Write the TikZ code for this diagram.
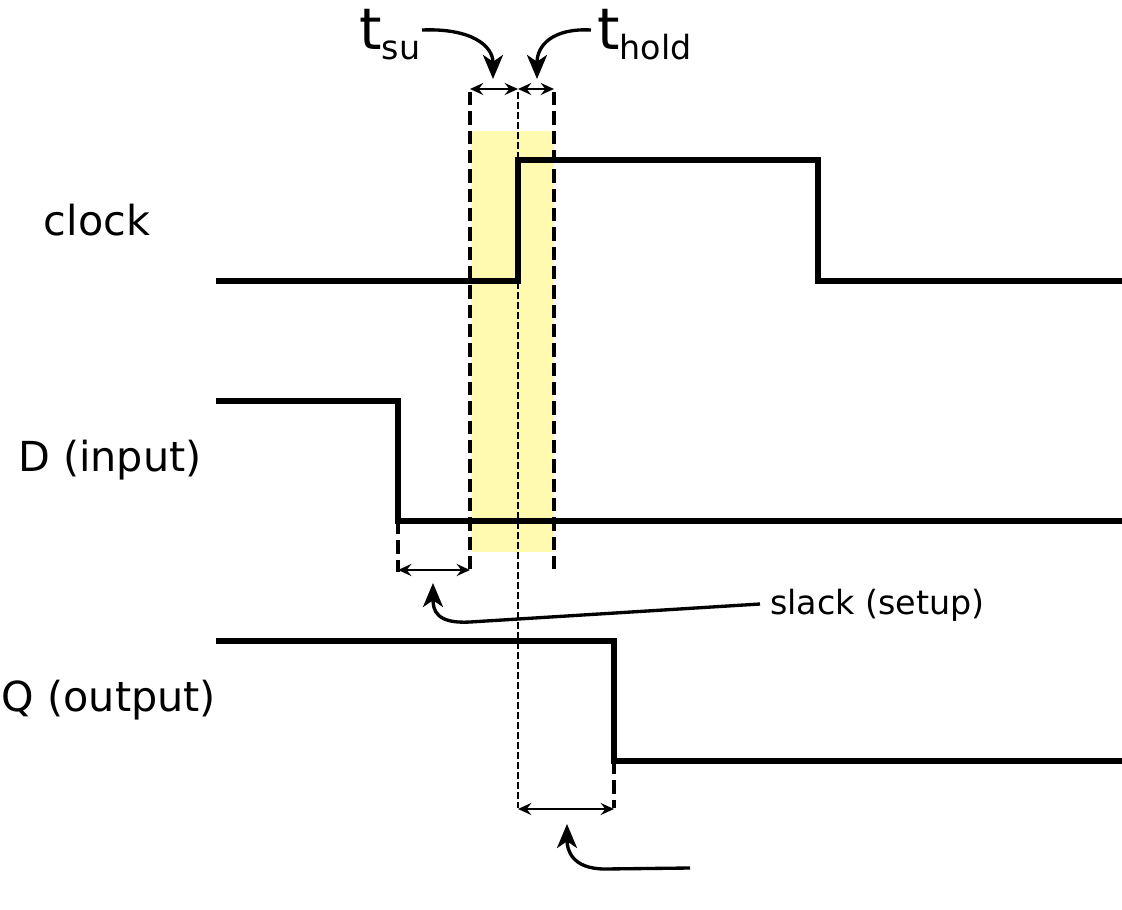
\documentclass[tikz,border=0pt]{standalone}
\usepackage{fontspec}
\setmainfont{DejaVu Sans}
\usetikzlibrary{arrows.meta}
\definecolor{hl}{RGB}{255,250,175}
\begin{document}
\begin{tikzpicture}[x=0.75pt,y=-0.75pt,
  wave/.style={line width=4.3pt, line join=miter},
  guide/.style={line width=2.6pt, dash pattern=on 10pt off 4.5pt},
  guidefine/.style={line width=1.8pt, dash pattern=on 5pt off 2.5pt},
  dim/.style={line width=1.9pt, {Stealth[length=10pt,width=9pt,inset=3.5pt]}-{Stealth[length=10pt,width=9pt,inset=3.5pt]}},
  callout/.style={line width=2.5pt, -{Stealth[length=18pt,width=15pt,inset=5pt]}},
  lab/.style={font=\fontsize{31}{36}\selectfont, inner sep=0pt},
  big/.style={font=\fontsize{43}{46}\selectfont, inner sep=0pt, anchor=base west}
]
\useasboundingbox (0,0) rectangle (1122,910);
% highlight
\fill[hl] (471,131) rectangle (554,552);

% coordinates of waveforms
\coordinate (c0) at (216,281);
\coordinate (c1) at (518,281);
\coordinate (c2) at (518,160);
\coordinate (c3) at (818,160);
\coordinate (c4) at (818,281);
\coordinate (c5) at (1122,281);
\coordinate (d0) at (216,401);
\coordinate (d1) at (398,401);
\coordinate (d2) at (398,521);
\coordinate (d3) at (1122,521);
\coordinate (q0) at (216,641);
\coordinate (q1) at (614,641);
\coordinate (q2) at (614,761);
\coordinate (q3) at (1122,761);

% guide coordinates
\coordinate (gsuT) at (470,92);
\coordinate (gsuB) at (470,570);
\coordinate (gclkT) at (518,92);
\coordinate (gclkB) at (518,808);
\coordinate (ghT) at (554,92);
\coordinate (ghB) at (554,570);
\coordinate (gdB) at (398,572);
\coordinate (gqB) at (614,808);

\draw[guide] (gsuT) -- (gsuB);
\draw[guide] (ghT) -- (ghB);
\draw[guidefine] (gclkT) -- (gclkB);
\draw[guide] (d2) -- (gdB);
\draw[guide] (q2) -- (gqB);

\draw[wave] (c0) -- (c1) -- (c2) -- (c3) -- (c4) -- (c5);
\draw[wave] (d0) -- (d1) -- (d2) -- (d3);
\draw[wave] (q0) -- (q1) -- (q2) -- (q3);

% dimension arrows
\coordinate (a1) at (470,89);
\coordinate (a2) at (518,89);
\coordinate (a3) at (554,89);
\draw[dim] (a1) -- (a2);
\draw[dim] (a2) -- (a3);
\coordinate (s1) at (398,570);
\coordinate (s2) at (470,570);
\draw[dim] (s1) -- (s2);
\coordinate (b1) at (518,809);
\coordinate (b2) at (614,809);
\draw[dim] (b1) -- (b2);

% labels
\node[lab] (clk) at (97,220) {clock};
\node[lab] (din) at (110,460) {D (input)};
\node[lab] (qout) at (109,700) {Q (output)};
\node[font=\fontsize{25}{30}\selectfont, inner sep=0pt, anchor=west] (slack) at (770,605) {slack (setup)};
\node[big] (tsu) at (359,50) {t\raisebox{-7pt}{\fontsize{25}{28}\selectfont su}};
\node[big] (thold) at (597,50) {t\raisebox{-7pt}{\fontsize{25}{28}\selectfont hold}};

% callouts
\coordinate (tsuS) at (422,30);
\coordinate (tsuE) at (493,79);
\draw[callout] (tsuS) .. controls (470,28) and (493,45) .. (tsuE);
\coordinate (thS) at (591,30);
\coordinate (thE) at (537,79);
\draw[callout] (thS) .. controls (553,28) and (537,45) .. (thE);
\coordinate (slS) at (760,604);
\coordinate (slM) at (470,622);
\coordinate (slE) at (433,583);
\draw[callout] (slS) -- (slM) .. controls (436,624) and (433,610) .. (slE);
\coordinate (bS) at (690,868);
\coordinate (bM) at (605,869);
\coordinate (bE) at (567,824);
\draw[callout] (bS) -- (bM) .. controls (572,869) and (567,850) .. (bE);
\end{tikzpicture}
\end{document}
